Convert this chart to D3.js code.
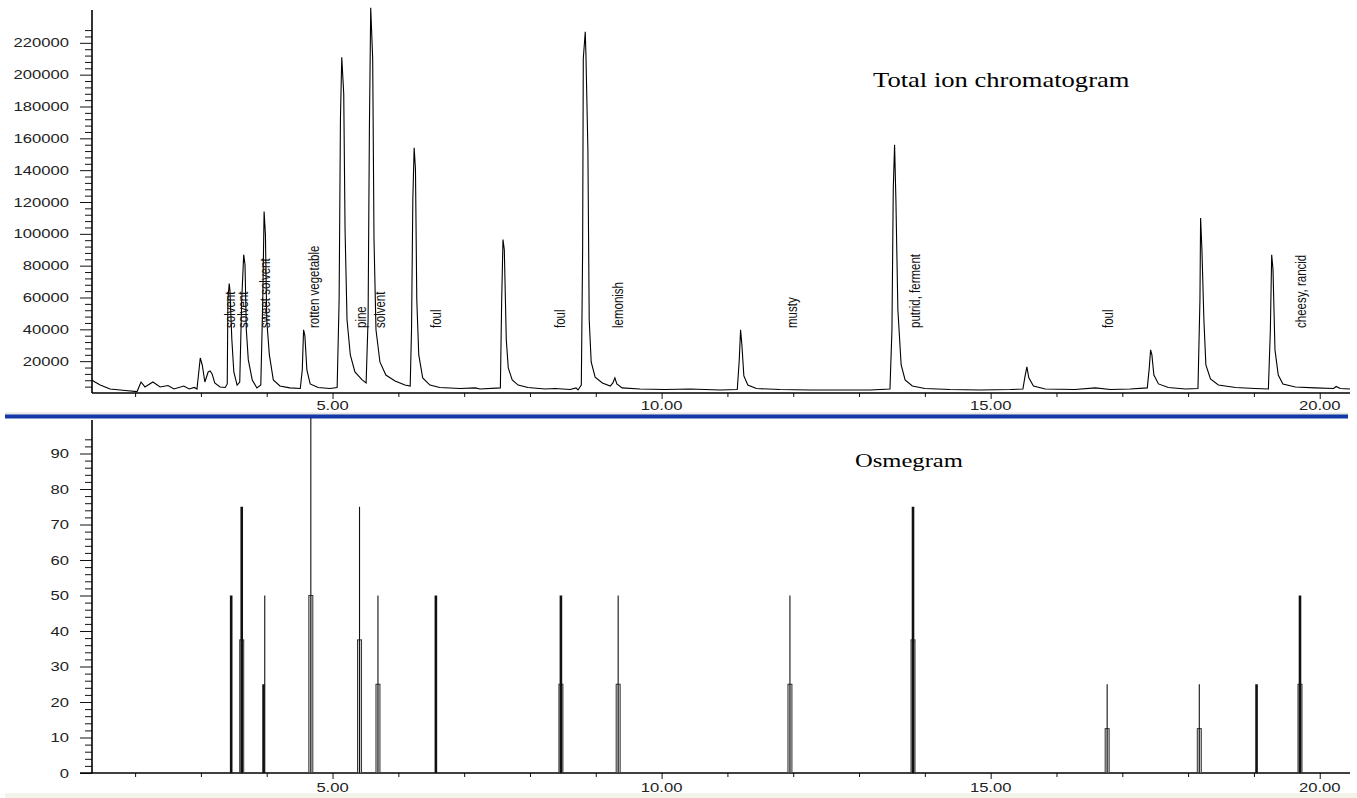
<!DOCTYPE html>
<html lang="en">
<head>
<meta charset="utf-8">
<title>Total ion chromatogram and osmegram</title>
<script src="https://d3js.org/d3.v7.min.js"></script>
<style>
    body { margin: 0; background: #fff; }
    svg { display: block; }
    .tick-label { font-family: "Liberation Sans", Arial, sans-serif; font-size: 12.5px; fill: #222; }
    .odour { font-family: "Liberation Sans", Arial, sans-serif; font-size: 11.5px; fill: #111; }
    .title { font-family: "Liberation Serif", "Times New Roman", serif; font-size: 19px; fill: #000; }
</style>
</head>
<body>
<svg id="chart"></svg>
<script>
    // ---- data ----
    // total ion chromatogram (retention time in min, abundance)
    const ticTime = [1.34, 1.39, 1.47, 1.62, 1.85, 2.03, 2.09, 2.15, 2.27, 2.38, 2.50, 2.59, 2.74, 2.82, 2.90, 2.94,
        2.99, 3.02, 3.06, 3.11, 3.14, 3.17, 3.21, 3.29, 3.37, 3.40, 3.41, 3.43, 3.44, 3.47, 3.50, 3.55, 3.59,
        3.62, 3.65, 3.67, 3.69, 3.72, 3.78, 3.85, 3.91, 3.94, 3.96, 3.98, 4.00, 4.04, 4.10, 4.20, 4.35, 4.51,
        4.54, 4.56, 4.58, 4.61, 4.66, 4.78, 4.96, 5.07, 5.10, 5.12, 5.14, 5.17, 5.19, 5.22, 5.27, 5.34, 5.45,
        5.51, 5.54, 5.56, 5.58, 5.61, 5.63, 5.66, 5.72, 5.81, 5.95, 6.10, 6.18, 6.20, 6.22, 6.24, 6.26, 6.28,
        6.31, 6.37, 6.48, 6.63, 6.94, 7.17, 7.24, 7.55, 7.57, 7.59, 7.61, 7.64, 7.67, 7.73, 7.82, 7.97, 8.23,
        8.38, 8.61, 8.70, 8.73, 8.78, 8.80, 8.81, 8.84, 8.85, 8.88, 8.90, 8.93, 8.99, 9.10, 9.22, 9.26, 9.29,
        9.32, 9.40, 9.67, 10.05, 10.43, 10.89, 11.15, 11.18, 11.20, 11.22, 11.25, 11.31, 11.44, 11.80, 12.26,
        12.71, 13.17, 13.47, 13.50, 13.52, 13.54, 13.56, 13.59, 13.64, 13.70, 13.81, 14.00, 14.38, 14.84,
        15.30, 15.49, 15.52, 15.55, 15.58, 15.65, 15.83, 16.28, 16.59, 16.82, 17.12, 17.38, 17.41, 17.43,
        17.45, 17.48, 17.55, 17.70, 17.96, 18.15, 18.18, 18.19, 18.21, 18.24, 18.27, 18.34, 18.46, 18.72,
        19.02, 19.22, 19.25, 19.27, 19.29, 19.32, 19.37, 19.44, 19.63, 19.93, 20.21, 20.25, 20.31, 20.46];
    const ticValue = [8200, 6900, 5000, 2500, 1600, 900, 6900, 3800, 6900, 3800, 4700, 2500, 4400, 2500, 3500, 2500,
        22000, 17600, 6900, 13200, 13900, 12000, 6300, 3800, 3500, 5700, 58600, 68700, 64900, 33400, 13200, 5000, 6900,
        58600, 86900, 80600, 39700, 20800, 8200, 3200, 5000, 58600, 114000, 99500, 46000, 23900, 8200, 4400, 3200, 2800,
        14500, 39700, 35900, 14500, 5700, 3500, 2800, 3500, 58600, 172000, 211000, 188000, 103000, 46000, 23900, 13200, 8200,
        6300, 46000, 165700, 242000, 210000, 96400, 39700, 19500, 11300, 7600, 5000, 4400, 39700, 121600, 154000, 140500, 58600,
        23900, 9500, 5000, 3500, 2800, 3200, 2500, 3200, 58600, 96400, 90000, 33400, 15800, 8200, 5000, 3500, 2500,
        2800, 2200, 3200, 1900, 5000, 90000, 210000, 227000, 213000, 153000, 46000, 19500, 10000, 6300, 4400, 6300, 9500,
        5700, 3200, 2500, 2200, 2500, 1900, 2200, 20800, 39700, 30200, 10700, 5000, 2800, 2200, 1900,
        1900, 1900, 2500, 39700, 128000, 156000, 121600, 52300, 17600, 8200, 4400, 2800, 2200, 1900,
        2200, 2500, 10000, 16400, 9500, 4400, 2500, 2200, 3200, 2200, 2500, 3200, 15800, 27100,
        23900, 11300, 5700, 3500, 2500, 2800, 58600, 110000, 90000, 46000, 17600, 8800, 5000, 3500,
        2800, 2500, 39700, 86900, 77500, 27100, 11300, 5700, 3800, 3200, 2800, 4100, 2800, 2500];

    // odour descriptors written over the chromatogram
    const odourText = ["solvent", "solvent", "sweet solvent", "rotten vegetable", "pine", "solvent", "foul",
        "foul", "lemonish", "musty", "putrid, ferment", "foul", "cheesy, rancid"];
    const odourTime = [3.43, 3.64, 3.97, 4.71, 5.43, 5.71, 6.56, 8.45, 9.33, 11.98, 13.84, 16.77, 19.71];

    // osmegram peaks
    const osmeTime  = [3.46, 3.62, 3.97, 4.67, 5.41, 5.69, 6.57, 8.47, 9.34, 11.95, 13.82, 16.77, 18.17, 19.04, 19.70];
    const osmeValue = [50, 75, 50, 100, 75, 50, 50, 50, 50, 50, 75, 25, 25, 25, 50];
    const osmeInner = [0, 37.5, 25, 50, 37.5, 25, 0, 25, 25, 25, 37.5, 12.5, 12.5, 0, 25];
    const osmeWeight = ["thick", "thick", "thin", "thin", "thin", "thin", "thick", "thick", "thin", "thin",
        "thick", "thin", "thin", "thick", "thick"];
    const osmeInnerStyle = ["none", "hollow", "solid", "hollow", "hollow", "hollow", "none", "hollow", "hollow",
        "hollow", "hollow", "hollow", "hollow", "none", "hollow"];

    // axis ticks
    const xMajor = [5, 10, 15, 20];
    const xMinor = [2, 3, 4, 6, 7, 8, 9, 11, 12, 13, 14, 16, 17, 18, 19];
    const ticMajor = [20000, 40000, 60000, 80000, 100000, 120000, 140000, 160000, 180000, 200000, 220000];
    const osmeMajor = [0, 10, 20, 30, 40, 50, 60, 70, 80, 90];

    // ---- layout ----
    const WIDTH = 1357, HEIGHT = 798;
    const SX = 1.33;   // the source image is stretched horizontally

    const svg = d3.select('#chart').attr('width', WIDTH).attr('height', HEIGHT);

    const x = d3.scaleLinear().domain([1.345, 20.46]).range([92, 1350]);
    const yTop = d3.scaleLinear().domain([0, 240000]).range([393, 11]);
    const yBot = d3.scaleLinear().domain([0, 100]).range([773, 418]);

    // minor tick values derived from the major spacing
    const ticMinor = d3.range(4000, 230000, 4000).filter(v => v % 20000 !== 0);
    const osmeMinor = d3.range(2, 96, 2).filter(v => v % 10 !== 0);

    // separators and bottom band
    svg.append('rect').attr('x', 5).attr('y', 412.5).attr('width', 1343).attr('height', 2.5).attr('fill', '#e6e6e6');
    svg.append('rect').attr('x', 5).attr('y', 414.5).attr('width', 1343).attr('height', 4).attr('fill', '#1438a8');
    svg.append('rect').attr('x', 5).attr('y', 793).attr('width', 1352).attr('height', 5).attr('fill', '#f3f3ea');

    function drawAxes(yScale, major, minor, yTopPx, xStart, fmt, labelY) {
        const g = svg.append('g');
        // y axis
        g.append('g').attr('transform', 'translate(92,0)')
            .call(d3.axisLeft(yScale).tickValues(major).tickSize(12).tickFormat(''));
        g.append('g').attr('transform', 'translate(92,0)')
            .call(d3.axisLeft(yScale).tickValues(minor).tickSize(7).tickFormat(''));
        // x axis
        const base = yScale(0);
        g.append('g').attr('transform', `translate(0,${base})`)
            .call(d3.axisBottom(x).tickValues(xMajor).tickSize(6).tickFormat(''));
        g.append('g').attr('transform', `translate(0,${base})`)
            .call(d3.axisBottom(x).tickValues(xMinor).tickSize(4).tickFormat(''));
        g.selectAll('.domain').remove();
        g.selectAll('line').attr('stroke', '#111');
        g.append('line').attr('x1', 92).attr('x2', 92).attr('y1', yTopPx).attr('y2', base)
            .attr('stroke', '#000').attr('stroke-width', 1.6);
        g.append('line').attr('x1', xStart).attr('x2', x.range()[1]).attr('y1', base).attr('y2', base)
            .attr('stroke', '#000').attr('stroke-width', 1.3);

        g.selectAll('text.ylab').data(major).join('text')
            .attr('class', 'tick-label ylab')
            .attr('text-anchor', 'end')
            .attr('dy', '0.36em')
            .attr('transform', d => `translate(69,${yScale(d)}) scale(${SX},1)`)
            .text(fmt);
        g.selectAll('text.xlab').data(xMajor).join('text')
            .attr('class', 'tick-label xlab')
            .attr('text-anchor', 'middle')
            .attr('dy', '0.36em')
            .attr('transform', d => `translate(${x(d)},${labelY}) scale(${SX},1)`)
            .text(d => d.toFixed(2));
    }

    drawAxes(yTop, ticMajor, ticMinor, 10, 92, d => d, 405);
    drawAxes(yBot, osmeMajor, osmeMinor, 420, 80, d => d, 787);

    // chromatogram trace
    const tic = ticTime.map((t, i) => ({t: t, v: ticValue[i]}));
    svg.append('path')
        .datum(tic)
        .attr('fill', 'none')
        .attr('stroke', '#000')
        .attr('stroke-width', 1.1)
        .attr('d', d3.line().x(d => x(d.t)).y(d => yTop(d.v)));

    // odour labels, rotated
    svg.selectAll('text.odour').data(odourText).join('text')
        .attr('class', 'odour')
        .attr('dy', '0.35em')
        .attr('transform', (d, i) => `translate(${x(odourTime[i])},328) scale(${SX},1) rotate(-90)`)
        .text(d => d);

    svg.append('text').attr('class', 'title')
        .style('font-size', '20px')
        .attr('transform', `translate(873,87) scale(${SX},1)`)
        .text('Total ion chromatogram');
    svg.append('text').attr('class', 'title')
        .style('font-size', '18.5px')
        .attr('transform', `translate(855,467) scale(${SX},1)`)
        .text('Osmegram');

    // osmegram peaks
    const osme = osmeTime.map((t, i) => ({
        t: t, v: osmeValue[i], inner: osmeInner[i], weight: osmeWeight[i], style: osmeInnerStyle[i]
    }));
    const peaks = svg.selectAll('g.osme').data(osme).join('g')
        .attr('class', 'osme')
        .attr('transform', d => `translate(${x(d.t)},0)`);
    peaks.filter(d => d.style === 'hollow').append('rect')
        .attr('x', -2).attr('width', 4)
        .attr('y', d => yBot(d.inner))
        .attr('height', d => yBot(0) - yBot(d.inner))
        .attr('fill', '#d8d8d8').attr('stroke', '#333').attr('stroke-width', 1);
    peaks.filter(d => d.style === 'solid').append('rect')
        .attr('x', -2.5).attr('width', 2.5)
        .attr('y', d => yBot(d.inner))
        .attr('height', d => yBot(0) - yBot(d.inner))
        .attr('fill', '#111');
    peaks.append('line')
        .attr('x1', 0).attr('x2', 0)
        .attr('y1', yBot(0))
        .attr('y2', d => yBot(d.v))
        .attr('stroke', '#111')
        .attr('stroke-width', d => d.weight === 'thick' ? 2.6 : 1.1);
</script>
</body>
</html>
